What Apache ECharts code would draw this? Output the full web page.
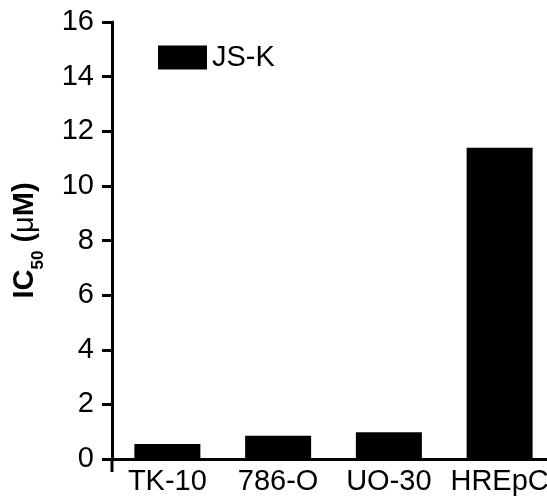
<!DOCTYPE html>
<html>
<head>
<meta charset="utf-8">
<script src="https://cdn.jsdelivr.net/npm/echarts@6/dist/echarts.min.js"></script>
<style>
  html, body { margin: 0; padding: 0; background: #fff; }
  #chart { width: 547px; height: 500px; }
</style>
</head>
<body>
<div id="chart"></div>
<script>
var categories = ['TK-10', '786-O', 'UO-30', 'HREpC'];
var jskValues = [0.55, 0.85, 0.98, 11.4];
var seriesName = 'JS-K';
var yMin = 0, yMax = 16, yStep = 2;

var chart = echarts.init(document.getElementById('chart'));

var options = {
    backgroundColor: '#fff',
    animation: false,
    textStyle: { fontFamily: 'Liberation Sans, Arial, sans-serif', color: '#000' },
    grid: {
        left: 112,
        top: 22,
        width: 443,
        height: 437,
        containLabel: false,
        outerBoundsMode: 'none'
    },
    legend: {
        data: [seriesName],
        left: 158,
        top: 43,
        padding: 0,
        itemWidth: 49,
        itemHeight: 24,
        icon: 'rect',
        textStyle: { fontSize: 29, color: '#000', lineHeight: 24 }
    },
    xAxis: {
        type: 'category',
        data: categories,
        axisLine: { lineStyle: { color: '#000', width: 3 } },
        axisTick: { show: false },
        axisLabel: { fontSize: 29, color: '#000', margin: 8, interval: 0, hideOverlap: false }
    },
    yAxis: {
        type: 'value',
        min: yMin,
        max: yMax,
        interval: yStep,
        name: '{a|IC}{b|50}{a| (}{m|μ}{a|M)}',
        nameLocation: 'middle',
        nameGap: 72,
        nameTextStyle: {
            rich: {
                a: { fontSize: 29, fontWeight: 'bold', color: '#000', lineHeight: 30, verticalAlign: 'top' },
                m: { fontSize: 29, color: '#000', lineHeight: 30, verticalAlign: 'top' },
                b: { fontSize: 17, fontWeight: 'bold', color: '#000', lineHeight: 17, verticalAlign: 'top', padding: [20, 0, 0, 0] }
            }
        },
        splitLine: { show: false },
        axisLine: { show: true, lineStyle: { color: '#000', width: 3 } },
        axisTick: { show: true, length: 10, lineStyle: { color: '#000', width: 3 } },
        axisLabel: { fontSize: 29, color: '#000', margin: 18 }
    },
    // y axis line runs a little below zero in the original
    graphic: [{
        type: 'line',
        shape: { x1: 112, y1: 459, x2: 112, y2: 472 },
        style: { stroke: '#000', lineWidth: 3 }
    }],
    series: [
        {
            name: seriesName,
            type: 'bar',
            barWidth: 66,
            itemStyle: { color: '#000' },
            data: jskValues
        }
    ]
};
chart.setOption(options);
</script>
</body>
</html>
